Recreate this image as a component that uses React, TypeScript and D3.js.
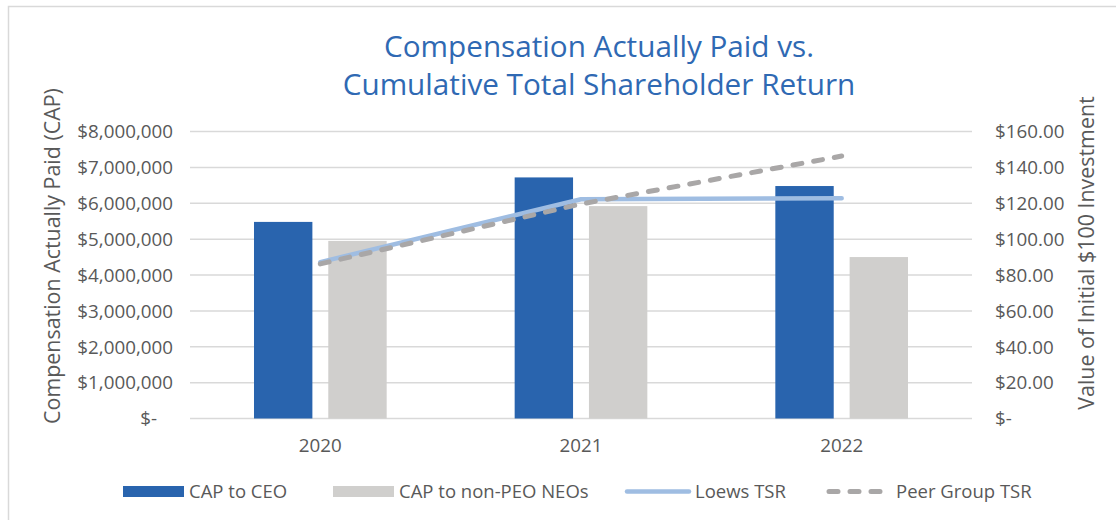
import React from "react";
import * as d3 from "d3";

const years = ["2020", "2021", "2022"];
const capToCEO = [5480000, 6720000, 6480000];
const capToNonPEO = [4950000, 5920000, 4500000];
const loewsTSR = [87.2, 122.2, 122.8];
const peerGroupTSR = [86.2, 119.6, 146.3];
const leftTicks = [0, 1000000, 2000000, 3000000, 4000000, 5000000, 6000000, 7000000, 8000000];
const rightTicks = [0, 20, 40, 60, 80, 100, 120, 140, 160];
const titleLines = ["Compensation Actually Paid vs.", "Cumulative Total Shareholder Return"];
const leftAxisTitle = "Compensation Actually Paid (CAP)";
const rightAxisTitle = "Value of Initial $100 Investment";
const seriesNames = ["CAP to CEO", "CAP to non-PEO NEOs", "Loews TSR", "Peer Group TSR"];

const FONT = "'Open Sans', 'Noto Sans', sans-serif";
const TEXT = "#595959";
const BLUE = "#2964ae";
const GREY = "#d0cfcd";
const LOEWS = "#9fbde2";
const PEER = "#a9a7a7";
const GRID = "#d9d9d9";

export default function App() {
  const W = 1116, H = 520;
  const plot = { left: 190, right: 972, top: 131.5, bottom: 418.5 };

  const x = d3.scaleBand<string>().domain(years).range([plot.left, plot.right]).padding(0);
  const bw = x.bandwidth();
  const barW = bw * 0.224;
  const gap = bw * 0.061;
  const inner = d3
    .scaleBand<string>()
    .domain(["ceo", "neo"])
    .range([-(barW + gap / 2), barW + gap / 2])
    .paddingInner(gap / (barW + gap))
    .paddingOuter(0);
  const yL = d3.scaleLinear().domain([0, 8000000]).range([plot.bottom, plot.top]);
  const yR = d3.scaleLinear().domain([0, 160]).range([plot.bottom, plot.top]);
  const cx = (yr: string) => (x(yr) as number) + bw / 2;

  const fmtL = (v: number) => (v === 0 ? "$-" : "$" + d3.format(",")(v));
  const fmtR = (v: number) => (v === 0 ? "$-" : "$" + d3.format(".2f")(v));

  const line = d3
    .line<number>()
    .x((_, i) => cx(years[i]))
    .y((v) => yR(v));

  const legendY = 491.5;

  return (
    <svg
      width={W}
      height={H}
      style={{ position: "absolute", left: 0, top: 0, background: "#fff" }}
      fontFamily={FONT}
    >
      <rect x={8.5} y={6.5} width={1300} height={700} fill="#fff" stroke={GRID} strokeWidth={1.5} />

      {/* title */}
      <text textAnchor="middle" fill="#2f69b3" fontSize={29.7}>
        <tspan x={599} y={57}>{titleLines[0]}</tspan>
        <tspan x={599} y={94.5}>{titleLines[1]}</tspan>
      </text>

      {/* gridlines */}
      {leftTicks.map((t) => (
        <line key={t} x1={plot.left} x2={plot.right} y1={yL(t)} y2={yL(t)} stroke={GRID} strokeWidth={1.5} />
      ))}

      {/* left ticks */}
      {leftTicks.map((t) => (
        <text
          key={"l" + t}
          x={t === 0 ? 157 : 173}
          y={yL(t)}
          dy="0.36em"
          textAnchor="end"
          fill={TEXT}
          fontSize={18.8}
        >
          {fmtL(t)}
        </text>
      ))}

      {/* right ticks */}
      {rightTicks.map((t) => (
        <text key={"r" + t} x={995} y={yR(t)} dy="0.36em" textAnchor="start" fill={TEXT} fontSize={18.8}>
          {fmtR(t)}
        </text>
      ))}

      {/* axis titles */}
      <text
        transform={`translate(59.5,256) rotate(-90)`}
        textAnchor="middle"
        fill={TEXT}
        fontSize={21.4}
      >
        {leftAxisTitle}
      </text>
      <text
        transform={`translate(1094,253) rotate(-90)`}
        textAnchor="middle"
        fill={TEXT}
        fontSize={21.4}
      >
        {rightAxisTitle}
      </text>

      {/* bars */}
      {years.map((yr, i) => (
        <g key={yr}>
          <rect
            x={cx(yr) + (inner("ceo") as number)}
            y={yL(capToCEO[i])}
            width={inner.bandwidth()}
            height={yL(0) - yL(capToCEO[i])}
            fill={BLUE}
          />
          <rect
            x={cx(yr) + (inner("neo") as number)}
            y={yL(capToNonPEO[i])}
            width={inner.bandwidth()}
            height={yL(0) - yL(capToNonPEO[i])}
            fill={GREY}
          />
        </g>
      ))}

      {/* category labels */}
      {years.map((yr) => (
        <text key={"c" + yr} x={cx(yr)} y={452} textAnchor="middle" fill={TEXT} fontSize={18.8}>
          {yr}
        </text>
      ))}

      {/* lines */}
      <path d={line(loewsTSR) || ""} fill="none" stroke={LOEWS} strokeWidth={4.5} strokeLinecap="round" strokeLinejoin="round" />
      <path
        d={line(peerGroupTSR) || ""}
        fill="none"
        stroke={PEER}
        strokeWidth={5}
        strokeDasharray="9 12"
        strokeLinecap="round"
        strokeLinejoin="round"
      />

      {/* legend */}
      <rect x={123} y={486} width={61} height={11} fill={BLUE} />
      <text x={189} y={legendY} dy="0.36em" fill={TEXT} fontSize={18.5}>{seriesNames[0]}</text>
      <rect x={333} y={486} width={61} height={11} fill={GREY} />
      <text x={399} y={legendY} dy="0.36em" fill={TEXT} fontSize={18.5}>{seriesNames[1]}</text>
      <line x1={627} x2={689} y1={legendY} y2={legendY} stroke={LOEWS} strokeWidth={4.5} strokeLinecap="round" />
      <text x={695} y={legendY} dy="0.36em" fill={TEXT} fontSize={18.5}>{seriesNames[2]}</text>
      <line
        x1={829}
        x2={884}
        y1={legendY}
        y2={legendY}
        stroke={PEER}
        strokeWidth={5}
        strokeDasharray="9 12"
        strokeLinecap="round"
      />
      <text x={896} y={legendY} dy="0.36em" fill={TEXT} fontSize={18.5}>{seriesNames[3]}</text>
    </svg>
  );
}
